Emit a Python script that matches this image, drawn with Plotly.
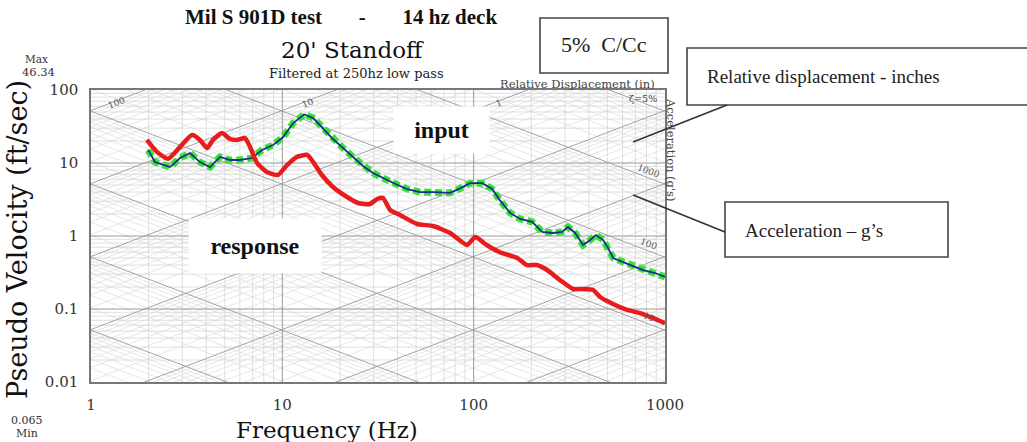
import numpy as np
import plotly.graph_objects as go

# ---------------- data ----------------
input_freq = [1.99, 2.16, 2.59, 2.92, 3.29, 3.71, 4.19, 4.72, 5.33, 6.01, 6.94, 7.83, 8.94,
              10.1, 11.4, 13.0, 14.5, 16.3, 18.4, 20.8, 23.4, 26.4, 29.8, 33.6, 38.8, 44.9,
              52.5, 61.4, 75.3, 84.9, 95.7, 111, 125, 137, 155, 175, 202, 228, 260, 290,
              311, 339, 373, 406, 436, 475, 504, 536, 604, 681, 768, 888, 1000]
input_pv = [15.1, 10.3, 8.8, 11.7, 13.7, 10.3, 8.8, 12.1, 11.0, 11.0, 11.7, 15.1, 17.6,
            22.7, 35.3, 46.3, 41.3, 30.1, 21.3, 16.0, 12.1, 9.1, 7.3, 6.2, 5.2, 4.4,
            4.0, 4.0, 3.9, 4.5, 5.3, 5.3, 4.4, 3.1, 2.07, 1.71, 1.56, 1.14, 1.10, 1.14,
            1.33, 1.10, 0.753, 0.88, 1.03, 0.88, 0.685, 0.50, 0.44, 0.388, 0.342, 0.311, 0.274]

resp_freq = [1.96, 2.21, 2.53, 2.92, 3.37, 3.71, 4.04, 4.34, 4.84, 5.33, 5.80, 6.38, 6.78,
             7.38, 8.32, 9.49, 10.6, 11.9, 13.5, 14.5, 16.1, 18.4, 21.8, 24.9, 28.7, 31.3,
             33.6, 36.6, 41.2, 50.6, 61.4, 75.3, 92.3, 102, 117, 137, 169, 190, 214, 242,
             283, 331, 369, 421, 458, 536, 634, 741, 867, 1000]
resp_pv = [20.7, 14.2, 11.4, 16.6, 24.2, 20.7, 16.0, 20.7, 25.8, 21.3, 20.7, 22.0, 16.6,
           10.0, 7.5, 6.85, 9.4, 12.1, 12.9, 10.3, 6.85, 4.69, 3.42, 2.83, 2.74, 3.21,
           3.32, 2.27, 1.94, 1.46, 1.37, 1.10, 0.753, 0.97, 0.753, 0.60, 0.50, 0.40, 0.40, 0.342,
           0.249, 0.188, 0.188, 0.182, 0.146, 0.117, 0.097, 0.088, 0.075, 0.064]

x_tick_vals = [1, 10, 100, 1000]
x_tick_text = ["1", "10", "100", "1000"]
y_tick_vals = [0.01, 0.1, 1, 10, 100]
y_tick_text = ["0.01", "0.1", "1", "10", "100"]

disp_labels = [100, 10, 1]          # relative displacement (in)
accel_labels = [1000, 100, 10]      # acceleration (g's)

# ---------------- layout helpers ----------------
W, H = 1027, 442
L, R, T, B = 91, 665, 90, 382        # plot area in pixels
G = 32.174                            # ft/s^2 per g


def px(x):
    return (x - L) / (R - L)


def py(y):
    return (B - y) / (B - T)


fig = go.Figure()


def add_lines(segs, color, width):
    xs, ys = [], []
    for (x0, y0, x1, y1) in segs:
        xs += [x0, x1, None]
        ys += [y0, y1, None]
    fig.add_trace(go.Scatter(x=xs, y=ys, mode="lines", hoverinfo="skip",
                             line=dict(color=color, width=width), showlegend=False))


# tripartite grid
minor_vh, major_vh, minor_d, major_d = [], [], [], []
for k in range(0, 3):
    for m in range(2, 10):
        f = m * 10 ** k
        minor_vh.append((f, 0.001, f, 1000))
for k in range(-2, 2):
    for m in range(2, 10):
        v = m * 10.0 ** k
        minor_vh.append((0.5, v, 2000, v))
for f in [10, 100]:
    major_vh.append((f, 0.001, f, 1000))
for v in [0.1, 1, 10]:
    major_vh.append((0.5, v, 2000, v))

fa, fb = 0.5, 2000.0
for k in range(-6, 4):
    for m in range(1, 10):
        D = m * 10.0 ** k
        seg = (fa, 2 * np.pi * fa * D / 12, fb, 2 * np.pi * fb * D / 12)
        (major_d if m == 1 else minor_d).append(seg)
for k in range(-3, 6):
    for m in range(1, 10):
        a = m * 10.0 ** k
        seg = (fa, a * G / (2 * np.pi * fa), fb, a * G / (2 * np.pi * fb))
        (major_d if m == 1 else minor_d).append(seg)

add_lines(minor_d, "#dcdcdc", 0.7)
add_lines(minor_vh, "#d2d2d2", 0.7)
add_lines(major_d, "#999999", 0.9)
add_lines(major_vh, "#9a9a9a", 1.0)

# input spectrum: green beaded line with dark blue core
fig.add_trace(go.Scatter(x=input_freq, y=input_pv, mode="lines", hoverinfo="skip",
                         line=dict(color="#33e633", width=7, dash="7px,4px"), showlegend=False))
fig.add_trace(go.Scatter(x=input_freq, y=input_pv, mode="lines", hoverinfo="skip",
                         line=dict(color="#1b2c8c", width=1.8), showlegend=False))
# response spectrum
fig.add_trace(go.Scatter(x=resp_freq, y=resp_pv, mode="lines", hoverinfo="skip",
                         line=dict(color="#e81c1c", width=4.5, shape="spline", smoothing=0.5),
                         showlegend=False))

ann = []
# labels along the diagonal grid
for D in disp_labels:
    v = 66.0
    f = v * 12 / (2 * np.pi * D) * 1.08
    ann.append(dict(x=np.log10(f), y=np.log10(v), xref="x", yref="y", text=str(D),
                    showarrow=False, textangle=-21, xanchor="center", yanchor="middle",
                    font=dict(family="DejaVu Serif", size=9, color="#555")))
for a in accel_labels:
    f = 820.0
    v = a * G / (2 * np.pi * f)
    ann.append(dict(x=np.log10(f), y=np.log10(v), xref="x", yref="y", text=str(a),
                    showarrow=False, textangle=21, yshift=7, xanchor="center",
                    yanchor="middle",
                    font=dict(family="DejaVu Serif", size=9, color="#555")))


def text(x, y, s, size, family="DejaVu Serif", color="#222", **kw):
    d = dict(x=px(x), y=py(y), xref="paper", yref="paper", text=s, showarrow=False,
             xanchor="center", yanchor="middle",
             font=dict(family=family, size=size, color=color))
    d.update(kw)
    ann.append(d)


nb = "\u00a0"
text(341, 17, "<b>Mil S 901D test" + nb * 7 + "-" + nb * 7 + "14 hz deck</b>", 21,
     family="Liberation Serif", color="#111")
text(352, 50, "20' Standoff", 23, color="#111")
text(356, 73, "Filtered at 250hz low pass", 13, color="#222")
text(36, 59, "Max", 10.5, color="#333")
text(38, 72, "46.34", 11.5, color="#333")
text(27, 420, "0.065", 11, color="#333")
text(27, 433, "Min", 11, color="#333")
text(577, 84, "Relative Displacement (in)", 11.5, color="#444")
text(643, 98, "\u03b6=5%", 9.5, color="#444")
text(671, 150, "Acceleration (g's)", 11.5, color="#444", textangle=90)

# axis titles
text(327, 430, "Frequency (Hz)", 23, color="#111")
text(17, 240, "Pseudo Velocity (ft/sec)", 27, color="#111", textangle=-90)

# boxed labels inside the plot
text(441, 130, "<b>input</b>", 24, family="Liberation Serif", color="#111",
     bgcolor="white", width=93, height=44)
text(255, 246, "<b>response</b>", 24, family="Liberation Serif", color="#111",
     bgcolor="white", width=130, height=52)

# callouts
shapes = []


def rect(x0, y0, x1, y1):
    shapes.append(dict(type="rect", xref="paper", yref="paper", x0=px(x0), x1=px(x1),
                       y0=py(y1), y1=py(y0), line=dict(color="#444", width=1.6),
                       fillcolor="white", layer="below"))


def seg(x0, y0, x1, y1):
    shapes.append(dict(type="line", xref="paper", yref="paper", x0=px(x0), x1=px(x1),
                       y0=py(y0), y1=py(y1), line=dict(color="#333", width=1.6)))


rect(540, 18, 668, 73)
rect(687, 48, 1040, 105)
rect(725, 202, 948, 257)
seg(727, 105, 633, 142)
seg(725, 232, 633, 195)

text(604, 45, "5%  C/Cc", 22, family="Liberation Serif", color="#222")
text(705, 76, "Relative displacement - inches", 19, family="Liberation Serif", color="#222",
     xanchor="left")
text(743, 230, "Acceleration \u2013 g\u2019s", 19, family="Liberation Serif", color="#222",
     xanchor="left")

axis_common = dict(type="log", showgrid=False, zeroline=False, showline=True,
                   linecolor="#777", linewidth=1.5, mirror=True, ticks="",
                   tickfont=dict(family="DejaVu Serif", size=15, color="#333"),
                   ticklabelstandoff=8)

fig.update_layout(
    width=W, height=H,
    margin=dict(l=L, r=W - R, t=T, b=H - B),
    paper_bgcolor="white", plot_bgcolor="white",
    showlegend=False,
    xaxis=dict(range=[0, 3], tickvals=x_tick_vals, ticktext=x_tick_text, **axis_common),
    yaxis=dict(range=[-2, 2], tickvals=y_tick_vals, ticktext=y_tick_text, **axis_common),
    annotations=ann,
    shapes=shapes,
)

fig.write_html("out.html")
